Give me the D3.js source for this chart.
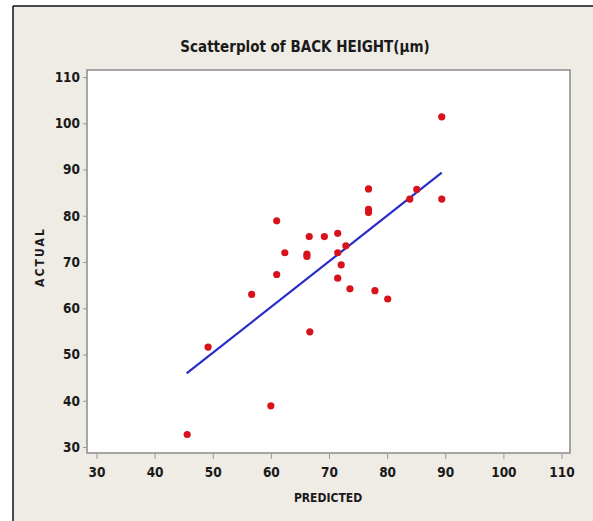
<!DOCTYPE html>
<html><head><meta charset="utf-8">
<script src="https://cdn.jsdelivr.net/npm/d3@7"></script>
<style>
html,body{margin:0;padding:0;background:#fff;}
svg{display:block;}
</style></head>
<body>
<svg id="chart" width="593" height="521"></svg>
<script>
const predicted = [45.6, 49.2, 56.7, 60.0, 61.0, 61.0, 62.4, 66.2, 66.2, 66.6, 66.7, 69.2, 71.5, 71.5, 71.5, 72.1, 72.9, 73.6, 76.8, 76.8, 76.8, 77.9, 80.1, 83.9, 85.1, 89.4, 89.4];
const actual    = [32.7, 51.6, 63.0, 38.9, 78.9, 67.3, 72.0, 71.7, 71.2, 75.5, 54.9, 75.5, 76.2, 72.0, 66.5, 69.4, 73.5, 64.2, 85.8, 81.4, 80.7, 63.8, 62.0, 83.6, 85.7, 101.4, 83.6];
const fitX = [45.5, 89.4];
const fitY = [45.9, 89.3];
const xTicks = [30, 40, 50, 60, 70, 80, 90, 100, 110];
const yTicks = [30, 40, 50, 60, 70, 80, 90, 100, 110];
const title = "Scatterplot of BACK HEIGHT(\u03bcm)";
const xLabel = "PREDICTED";
const yLabel = "ACTUAL";

const svg = d3.select("#chart");
const font = "'DejaVu Sans Condensed', 'DejaVu Sans', sans-serif";

// panel background and frame
svg.append("rect").attr("x", 13).attr("y", 6).attr("width", 593).attr("height", 521).attr("fill", "#efebe5");
svg.append("line").attr("x1", 13).attr("x2", 593).attr("y1", 6).attr("y2", 6).attr("stroke", "#111").attr("stroke-width", 1.5);
svg.append("line").attr("x1", 13).attr("x2", 13).attr("y1", 6).attr("y2", 521).attr("stroke", "#111").attr("stroke-width", 1.5);

const L = 87, R = 570, T = 70, B = 453;
const x = d3.scaleLinear().domain([30, 110]).range([96.5, 561.5]);
const y = d3.scaleLinear().domain([30, 110]).range([447, 77]);

svg.append("rect").attr("x", L).attr("y", T).attr("width", R - L).attr("height", B - T)
  .attr("fill", "#fff").attr("stroke", "#8a8a8a").attr("stroke-width", 1.5);

// axes
const xAxis = svg.append("g").attr("transform", `translate(0,${B})`)
  .call(d3.axisBottom(x).tickValues(xTicks).tickSize(6).tickPadding(8).tickFormat(d3.format("d")));
const yAxis = svg.append("g").attr("transform", `translate(${L},0)`)
  .call(d3.axisLeft(y).tickValues(yTicks).tickSize(4).tickPadding(3).tickFormat(d3.format("d")));
[xAxis, yAxis].forEach(g => {
  g.select(".domain").remove();
  g.selectAll(".tick line").attr("stroke", "#999");
  g.selectAll(".tick text").attr("fill", "#1a1a1a").style("font-family", font)
    .style("font-size", "13.5px").style("font-weight", "bold");
});

// fit line
svg.append("line")
  .attr("x1", x(fitX[0])).attr("y1", y(fitY[0]))
  .attr("x2", x(fitX[1])).attr("y2", y(fitY[1]))
  .attr("stroke", "#2b2bcc").attr("stroke-width", 2.2);

// points
svg.append("g").selectAll("circle").data(predicted.map((p, i) => [p, actual[i]]))
  .join("circle").attr("cx", d => x(d[0])).attr("cy", d => y(d[1])).attr("r", 3.6)
  .attr("fill", "#d8121c");

// texts
svg.append("text").attr("x", 305).attr("y", 52).attr("text-anchor", "middle")
  .style("font-family", font).style("font-size", "15px").style("font-weight", "bold")
  .attr("fill", "#1a1a1a").text(title);
svg.append("text").attr("x", 328).attr("y", 502).attr("text-anchor", "middle")
  .style("font-family", font).style("font-size", "12px").style("font-weight", "bold")
  .attr("fill", "#1a1a1a").text(xLabel);
svg.append("text").attr("transform", "translate(44,258) rotate(-90)").attr("text-anchor", "middle")
  .attr("textLength", 58).attr("lengthAdjust", "spacing")
  .style("font-family", font).style("font-size", "12px").style("font-weight", "bold")
  .attr("fill", "#1a1a1a").text(yLabel);
</script>
</body></html>
